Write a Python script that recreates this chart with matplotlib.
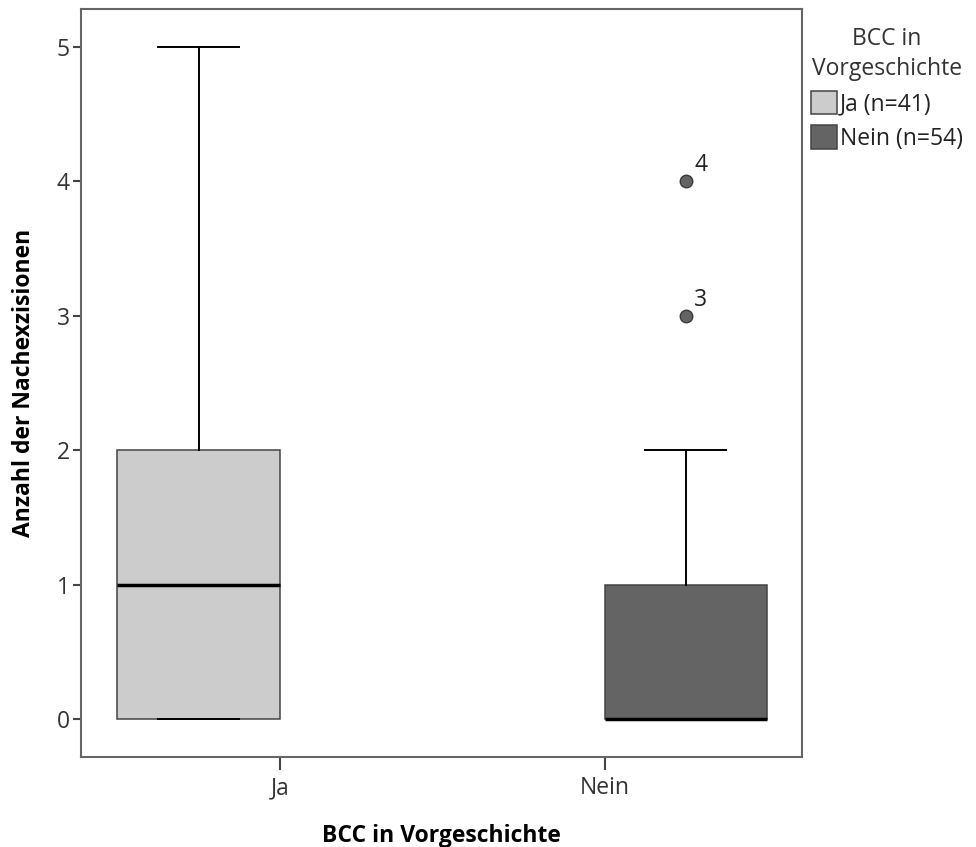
import matplotlib
matplotlib.use('Agg')
import matplotlib.pyplot as plt
from matplotlib.patches import Patch

plt.rcParams['font.family'] = ['Open Sans', 'DejaVu Sans']

# Nachexzisionen nach BCC-Vorgeschichte (Kennwerte der Boxplots)
groups = ['Ja', 'Nein']
group_n = [41, 54]
q1 = [0, 0]
median = [1, 0]
q3 = [2, 1]
whisker_lo = [0, 0]
whisker_hi = [5, 2]
outliers = [[], [3, 4]]
outlier_ids = [[], ['3', '4']]
fill_colors = ['#cccccc', '#646464']

# each category holds two cluster slots, the box sits in the slot of its own group
slot_offset = [-0.25, 0.25]
positions = [i + slot_offset[i] for i in range(len(groups))]

stats = []
for i in range(len(groups)):
    stats.append({'med': median[i], 'q1': q1[i], 'q3': q3[i],
                  'whislo': whisker_lo[i], 'whishi': whisker_hi[i],
                  'fliers': outliers[i]})

fs = 16.5

fig = plt.figure(figsize=(9.76, 8.47), dpi=100)
ax = fig.add_axes([0.083, 0.1063, 0.739, 0.8831])

bp = ax.bxp(stats, positions=positions, widths=0.5, patch_artist=True,
            boxprops=dict(edgecolor='#444444', linewidth=1.1),
            medianprops=dict(color='black', linewidth=2.5, solid_capstyle='butt'),
            whiskerprops=dict(color='black', linewidth=1.4),
            capprops=dict(color='black', linewidth=1.4),
            flierprops=dict(marker='o', markersize=9, markerfacecolor='#646464',
                            markeredgecolor='#3a3a3a', markeredgewidth=1.0))
for box, c in zip(bp['boxes'], fill_colors):
    box.set_facecolor(c)

for i in range(len(groups)):
    for val, lab in zip(outliers[i], outlier_ids[i]):
        ax.annotate(lab, (positions[i], val), xytext=(6, 3), textcoords='offset points',
                    ha='left', va='bottom', fontsize=fs, color='#222222')

ax.set_xlim(-0.612, 1.609)
ax.set_ylim(-0.28, 5.28)
ax.set_xticks(range(len(groups)))
ax.set_xticklabels(groups)
ax.set_yticks(range(0, 6))

for s in ax.spines.values():
    s.set_color('#666666')
    s.set_linewidth(1.5)
ax.tick_params(axis='y', length=6, width=1.5, color='#444444', labelsize=fs,
               labelcolor='#333333', pad=2)
ax.tick_params(axis='x', length=9, width=1.5, color='#444444', labelsize=fs,
               labelcolor='#333333', pad=5)

ax.set_ylabel('Anzahl der Nachexzisionen', fontsize=fs, fontweight='bold', labelpad=15)
ax.set_xlabel('BCC in Vorgeschichte', fontsize=fs, fontweight='bold', labelpad=17)

handles = [Patch(facecolor=c, edgecolor='#444444', linewidth=1.1) for c in fill_colors]
labels = ['%s (n=%d)' % (g, n) for g, n in zip(groups, group_n)]
leg = fig.legend(handles, labels, title='BCC in\nVorgeschichte', loc='upper left',
                 bbox_to_anchor=(0.831, 0.968), frameon=False, fontsize=fs,
                 title_fontsize=fs, handlelength=1.12, handleheight=1.2,
                 handletextpad=0.15, labelspacing=0.4, borderpad=0, borderaxespad=0)
leg.get_title().set_multialignment('center')
leg.get_title().set_color('#333333')
leg.get_title().set_linespacing(1.35)
for t in leg.get_texts():
    t.set_color('#222222')

fig.savefig('out.png', dpi=100)
